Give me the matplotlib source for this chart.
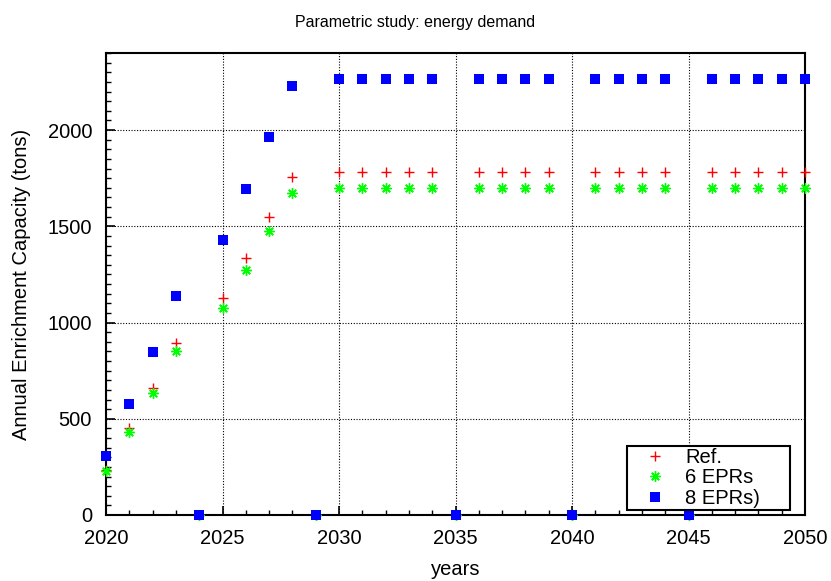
import matplotlib
matplotlib.use("Agg")
import matplotlib.pyplot as plt
from matplotlib.ticker import MultipleLocator
from matplotlib.patches import Rectangle

plt.rcParams['font.family'] = ['Liberation Sans', 'DejaVu Sans']

years = list(range(2020, 2051))

# Annual enrichment capacity (tons) per scenario; zero in non-reporting years
ref = [236, 453, 661, 896, 0, 1125, 1336, 1547, 1758, 0,
       1784, 1784, 1784, 1784, 1784, 0, 1784, 1784, 1784, 1784,
       0, 1784, 1784, 1784, 1784, 0, 1784, 1784, 1784, 1784, 1784]
epr6 = [231, 432, 632, 854, 0, 1073, 1272, 1474, 1675, 0,
        1700, 1700, 1700, 1700, 1700, 0, 1700, 1700, 1700, 1700,
        0, 1700, 1700, 1700, 1700, 0, 1700, 1700, 1700, 1700, 1700]
epr8 = [309, 575, 846, 1140, 0, 1428, 1695, 1965, 2231, 0,
        2265, 2265, 2265, 2265, 2265, 0, 2265, 2265, 2265, 2265,
        0, 2265, 2265, 2265, 2265, 0, 2265, 2265, 2265, 2265, 2265]

series_labels = ["Ref.", "6 EPRs", "8 EPRs)"]

W, H = 831, 581
fig = plt.figure(figsize=(W / 100, H / 100), dpi=100)
ax = fig.add_axes([106 / W, 1 - 515 / H, (805 - 106) / W, (515 - 53) / H])

ax.plot(years, ref, linestyle='none', marker='+', color='#ff0000',
        markersize=7.5, markeredgewidth=1.0, label=series_labels[0],
        zorder=3, clip_on=False)
ax.plot(years, epr6, linestyle='none', marker=(8, 2, 0), color='#00ff00',
        markersize=7.5, markeredgewidth=1.0, label=series_labels[1],
        zorder=3, clip_on=False)
ax.plot(years, epr8, linestyle='none', marker='s', color='#0000ff',
        markersize=6.5, markeredgewidth=0, label=series_labels[2],
        zorder=4, clip_on=False)

ax.set_xlim(2020, 2050)
ax.set_ylim(0, 2400)
ax.xaxis.set_major_locator(MultipleLocator(5))
ax.xaxis.set_minor_locator(MultipleLocator(1))
ax.yaxis.set_major_locator(MultipleLocator(500))
ax.yaxis.set_minor_locator(MultipleLocator(50))

ax.tick_params(axis='both', which='both', direction='in', top=False, right=False,
               labelsize=14.5, colors='black')
ax.tick_params(axis='x', which='major', length=6.5, width=1.2, pad=10)
ax.tick_params(axis='y', which='major', length=6.5, width=1.2, pad=10)
ax.tick_params(axis='both', which='minor', length=3.6, width=1.0)

ax.grid(True, which='major', color='black', linestyle=(0, (1, 1.5)), linewidth=0.8)
ax.set_axisbelow(True)

for side in ax.spines.values():
    side.set_linewidth(1.5)
    side.set_color('black')

fig.text(0.5, 1 - 26.7 / H, "Parametric study: energy demand", fontsize=11.5,
         ha='center', va='baseline')
ax.set_xlabel("years", fontsize=14.5, labelpad=9)
ax.set_ylabel("Annual Enrichment Capacity (tons)", fontsize=14.5, labelpad=12)

leg = ax.legend(loc='upper left', bbox_to_anchor=(645 / W, 1 - 448 / H),
                bbox_transform=fig.transFigure, fontsize=14.5, frameon=False,
                borderpad=0, labelspacing=0.07, handletextpad=1.0,
                handlelength=1.0, borderaxespad=0, numpoints=1)

# Boxed frame around the key, with wider side margins than top/bottom
fig.canvas.draw()
bb = leg.get_window_extent()
x0, y0 = bb.x0 - 18, bb.y0 - 2
x1, y1 = bb.x1 + 30, bb.y1 + 2
frame = Rectangle((x0 / W, y0 / H), (x1 - x0) / W, (y1 - y0) / H,
                  transform=fig.transFigure, facecolor='white',
                  edgecolor='black', linewidth=1.5, zorder=5)
fig.add_artist(frame)
leg.set_zorder(6)
fig.add_artist(leg)

fig.savefig("out.png", dpi=100)
